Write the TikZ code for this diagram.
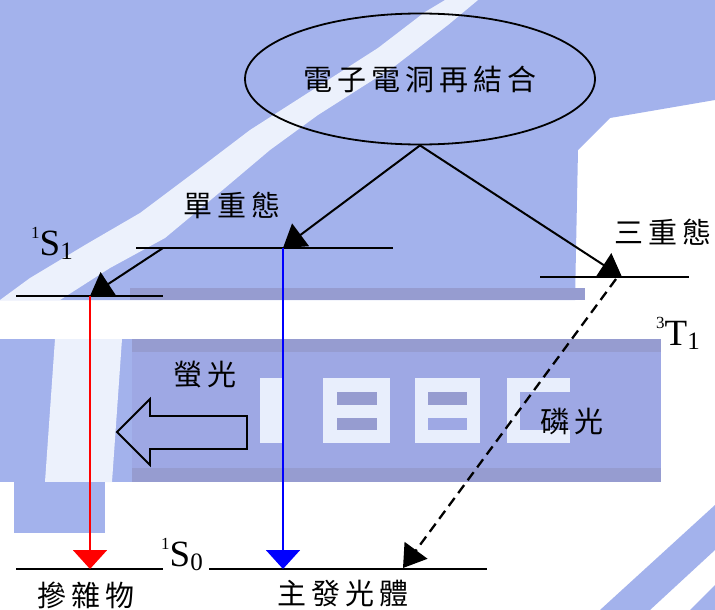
\documentclass[tikz,border=0pt]{standalone}
\usepackage{fontspec}
\setmainfont{Liberation Serif}
\newfontfamily\cjk{Noto Sans CJK TC}
\usetikzlibrary{shapes.geometric,arrows.meta}
\definecolor{bgblue}{RGB}{163,178,236}
\definecolor{bgdark}{RGB}{158,168,228}
\definecolor{bgedge}{RGB}{150,156,208}
\definecolor{stripe}{RGB}{236,241,252}
\definecolor{digit}{RGB}{232,238,252}
\tikzset{
  level/.style={line width=2.2pt},
  trans/.style={line width=2pt,-{Triangle[length=22pt,width=28pt]}},
  emit/.style={line width=2pt,-{Triangle[length=19pt,width=34pt]}},
  cjklab/.style={font=\cjk\fontsize{29}{29}\selectfont, inner sep=0pt},
  latlab/.style={font=\fontsize{37}{37}\selectfont, inner sep=0pt, anchor=base west},
}
\newcommand\ks{\kern5pt}
\newcommand\supl[1]{\raisebox{17pt}{\fontsize{17}{17}\selectfont #1}}
\newcommand\subl[1]{\raisebox{-4pt}{\fontsize{25}{25}\selectfont #1}}
\begin{document}
\begin{tikzpicture}[x=1pt,y=-1pt]
\useasboundingbox (0,0) rectangle (715,610);
% background
\fill[white] (0,0) rectangle (715,610);
\fill[bgblue] (0,0) -- (715,0) -- (715,100) -- (610,118) -- (578,150) -- (575,300) -- (0,300) -- cycle;
\fill[bgedge] (130,288) rectangle (585,300);
\fill[stripe] (0,300) -- (30,278) -- (85,245) -- (140,213) -- (200,168) -- (250,130) -- (300,98)
  -- (378,48) -- (425,12) -- (445,0) -- (478,0) -- (448,25) -- (395,66) -- (318,115)
  -- (270,150) -- (225,188) -- (165,238) -- (110,268) -- (60,300) -- cycle;
\fill[bgblue] (0,339) rectangle (132,482);
\fill[stripe] (55,339) -- (122,339) -- (112,482) -- (45,482) -- cycle;
\fill[bgdark] (132,339) rectangle (661,482);
\fill[bgedge] (132,339) rectangle (661,352);
\fill[bgedge] (132,468) rectangle (661,482);
\fill[bgblue] (14,482) rectangle (105,533);
\fill[bgblue] (600,610) -- (715,505) -- (715,550) -- (650,610) -- cycle;
\fill[bgblue] (690,610) -- (715,585) -- (715,610) -- cycle;
% pixel digits
\fill[digit] (260,378) rectangle (282,443);
\fill[digit] (323,378) rectangle (390,443);
\fill[bgedge] (337,392) rectangle (377,405);
\fill[bgedge] (337,418) rectangle (377,430);
\fill[digit] (415,378) rectangle (480,443);
\fill[bgedge] (428,392) rectangle (467,405);
\fill[bgdark] (428,418) rectangle (467,430);
\fill[digit] (507,378) rectangle (570,443);
\fill[bgdark] (520,392) rectangle (570,430);

% recombination ellipse
\node[ellipse, draw, line width=1.8pt, minimum width=350, minimum height=131, inner sep=0pt,
  font=\cjk\fontsize{29}{29}\selectfont] (rec) at (420,79)
  {電\ks 子\ks 電\ks 洞\ks 再\ks 結\ks 合};

% levels
\coordinate (sgL) at (136,248); \coordinate (sgR) at (393,248);
\coordinate (s1L) at (16,296);  \coordinate (s1R) at (163,296);
\coordinate (t1L) at (540,277); \coordinate (t1R) at (689,277);
\coordinate (s0aL) at (16,569); \coordinate (s0aR) at (163,569);
\coordinate (s0bL) at (209,569); \coordinate (s0bR) at (487,569);
\draw[level] (sgL) -- (sgR);
\draw[level] (s1L) -- (s1R);
\draw[level] (t1L) -- (t1R);
\draw[level] (s0aL) -- (s0aR);
\draw[level] (s0bL) -- (s0bR);

% transition points
\coordinate (sgT) at (283,248);
\coordinate (sgS) at (163,248);
\coordinate (s1T) at (90,296);
\coordinate (t1T) at (622,277);
\coordinate (t1S) at (616,279);
\coordinate (s0aT) at (90,569);
\coordinate (s0bT) at (283,569);
\coordinate (s0bD) at (403,568);

\draw[trans] (rec.south) -- (sgT);
\draw[trans] (rec.south) -- (t1T);
\draw[trans] (sgS) -- (s1T);
\draw[emit, red] (s1T) -- (s0aT);
\draw[emit, blue] (sgT) -- (s0bT);
\draw[trans, line width=2.3pt, dash pattern=on 10pt off 6pt] (t1S) -- (s0bD);

% hollow arrow
\draw[line width=1.8pt, line join=miter] (117,432) -- (150,399) -- (150,416) -- (247,416)
  -- (247,449) -- (150,449) -- (150,465) -- cycle;

% labels
\node[cjklab] (lsg) at (232,205) {單\ks 重\ks 態};
\node[cjklab] (ltr) at (663,232) {三\ks 重\ks 態};
\node[cjklab] (lfl) at (205,375) {螢\ks 光};
\node[cjklab] (lph) at (572,421) {磷\ks 光};
\node[cjklab] (ldp) at (86,595) {摻\ks 雜\ks 物};
\node[cjklab] (lhs) at (343,594) {主\ks 發\ks 光\ks 體};
\node[latlab] (ls1) at (31,255) {\supl{1}S\subl{1}};
\node[latlab] (lt1) at (656,345) {\supl{3}T\subl{1}};
\node[latlab] (ls0) at (161,566) {\supl{1}S\subl{0}};
\end{tikzpicture}
\end{document}
